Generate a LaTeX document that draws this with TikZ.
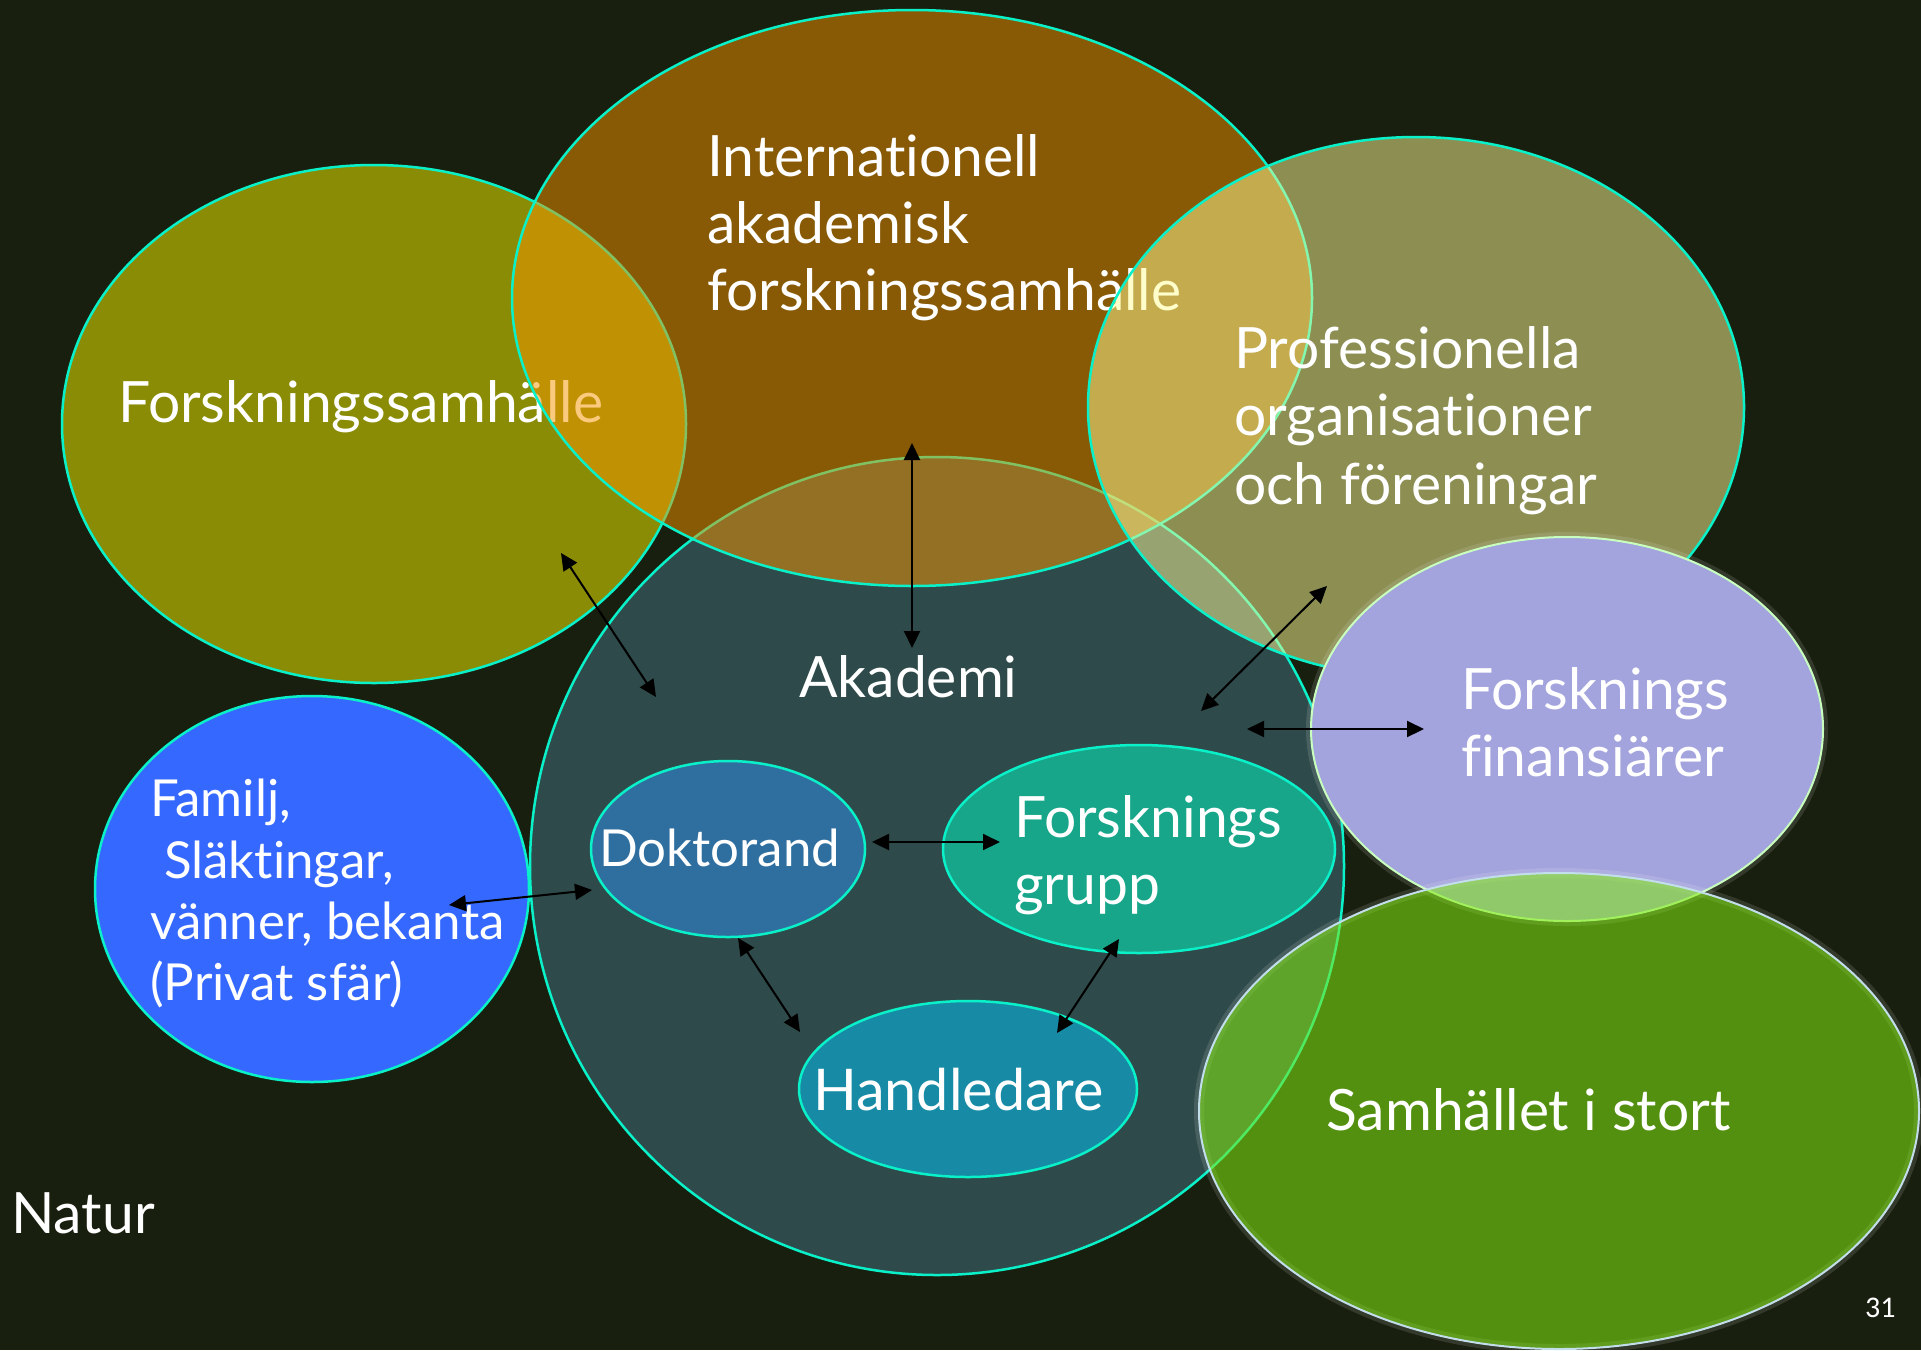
\documentclass[tikz,border=0pt]{standalone}
\usepackage{fontspec}
\setmainfont{Lato}[Ligatures=NoCommon]
\newfontfamily\numfont{Carlito}
\usetikzlibrary{arrows.meta,shapes.geometric}
\definecolor{bgc}{RGB}{25,31,14}
\definecolor{olivec}{RGB}{138,140,6}
\definecolor{orangec}{RGB}{247,150,0}
\definecolor{yellowc}{RGB}{255,253,150}
\definecolor{akac}{RGB}{47,74,74}
\definecolor{bluec}{RGB}{53,104,255}
\definecolor{doktc}{RGB}{47,111,160}
\definecolor{grupc}{RGB}{23,166,137}
\definecolor{handc}{RGB}{23,139,166}
\definecolor{lavc}{RGB}{163,163,221}
\definecolor{greenc}{RGB}{130,231,19}
\definecolor{edgec}{RGB}{10,240,200}
\definecolor{lavedge}{RGB}{200,255,190}
\definecolor{greenedge}{RGB}{195,222,235}
\tikzset{
  blob/.style={ellipse, inner sep=0pt, outer sep=0pt, draw=edgec, line width=2.5pt},
  lbl/.style={anchor=base west, inner sep=0pt, text=white, font=\fontsize{57}{68}\selectfont},
  lblsm/.style={lbl, font=\fontsize{51}{61}\selectfont},
  link/.style={{Triangle[length=17pt,width=16pt]}-{Triangle[length=17pt,width=16pt]}, line width=2pt, black},
  halo/.style={ellipse, inner sep=0pt, outer sep=0pt, draw=white, draw opacity=0.12, line width=10pt},
}
\begin{document}
\begin{tikzpicture}[x=1pt,y=-1pt]
\useasboundingbox (0,0) rectangle (1921,1350);
\clip (0,0) rectangle (1921,1350);
\fill[bgc] (0,0) rectangle (1921,1350);

% Forskningssamhalle (olive)
\node[blob, fill=olivec, minimum width=624pt, minimum height=518pt] (fsam) at (374,424) {};
\node[lbl] (fsamt) at (118,422) {Forskningssamhälle};

% Akademi
\node[blob, fill=akac, minimum width=814pt, minimum height=818pt] (aka) at (937,866) {};
\node[lbl] (akat) at (799,697) {Akademi};

% inner ellipses
\node[blob, fill=doktc, minimum width=274pt, minimum height=176pt] (dokt) at (728,849) {};
\node[lblsm] (doktt) at (599,866) {Doktorand};
\node[blob, fill=grupc, minimum width=392pt, minimum height=208pt] (grup) at (1139,849) {};
\node[lbl] (grupt1) at (1014,837) {Forsknings};
\node[lbl] (grupt2) at (1014,904) {grupp};
\node[blob, fill=handc, minimum width=338pt, minimum height=176pt] (hand) at (968,1089) {};
\node[lbl, font=\fontsize{57.5}{68}\selectfont] (handt) at (813,1110) {Handledare};

% Familj (blue)
\node[blob, fill=bluec, minimum width=434pt, minimum height=386pt] (fam) at (312,889) {};
\node[lblsm] (famt1) at (150,816) {Familj,};
\node[lblsm] (famt2) at (164,878) {Släktingar,};
\node[lblsm] (famt3) at (150,939) {vänner, bekanta};
\node[lblsm] (famt4) at (150,1000) {(Privat sfär)};

% Internationell (orange, translucent)
\node[blob, fill=orangec, fill opacity=0.5, minimum width=800pt, minimum height=576pt] (intl) at (912,298) {};
\node[lbl] (intlt1) at (707,176) {Internationell};
\node[lbl] (intlt2) at (707,243) {akademisk};
\node[lbl] (intlt3) at (707,310) {forskningssamhälle};

% Professionella (light yellow, translucent)
\node[blob, fill=yellowc, fill opacity=0.5, minimum width=656pt, minimum height=540pt] (prof) at (1416,407) {};
\node[lbl] (proft1) at (1234,368) {Professionella};
\node[lbl] (proft2) at (1234,435) {organisationer};
\node[lbl] (proft3) at (1234,504) {och föreningar};

% Forskningsfinansiarer (lavender)
\node[halo, minimum width=512pt, minimum height=384pt] (finh) at (1567,729) {};
\node[blob, fill=lavc, draw=lavedge, line width=2pt, minimum width=512pt, minimum height=384pt] (fin) at (1567,729) {};
\node[lbl] (fint1) at (1461,709) {Forsknings};
\node[lbl] (fint2) at (1461,776) {finansiärer};

% Samhallet i stort (green, translucent)
\node[halo, minimum width=720pt, minimum height=476pt] (samh) at (1559,1111) {};
\node[blob, fill=greenc, fill opacity=0.57, draw=greenedge, line width=2pt, minimum width=720pt, minimum height=476pt] (sam) at (1559,1111) {};
\node[lbl] (samt) at (1326,1130) {Samhället i stort};

% free texts
\node[lbl] (natur) at (11,1233) {Natur};
\node[lbl, font=\numfont\fontsize{30}{36}\selectfont] (pnum) at (1865,1317) {31};

% arrow end points
\coordinate (a1) at (912,443);  \coordinate (a2) at (912,648);
\coordinate (b1) at (561,553);  \coordinate (b2) at (656,697);
\coordinate (c1) at (1327,586); \coordinate (c2) at (1201,711);
\coordinate (d1) at (1247,729); \coordinate (d2) at (1424,729);
\coordinate (e1) at (449,905);  \coordinate (e2) at (592,890);
\coordinate (f1) at (872,842);  \coordinate (f2) at (1000,842);
\coordinate (g1) at (738,938);  \coordinate (g2) at (800,1032);
\coordinate (h1) at (1119,939); \coordinate (h2) at (1057,1033);

\draw[link] (a1) -- (a2);
\draw[link] (b1) -- (b2);
\draw[link] (c1) -- (c2);
\draw[link] (d1) -- (d2);
\draw[link] (e1) -- (e2);
\draw[link] (f1) -- (f2);
\draw[link] (g1) -- (g2);
\draw[link] (h1) -- (h2);
\end{tikzpicture}
\end{document}
